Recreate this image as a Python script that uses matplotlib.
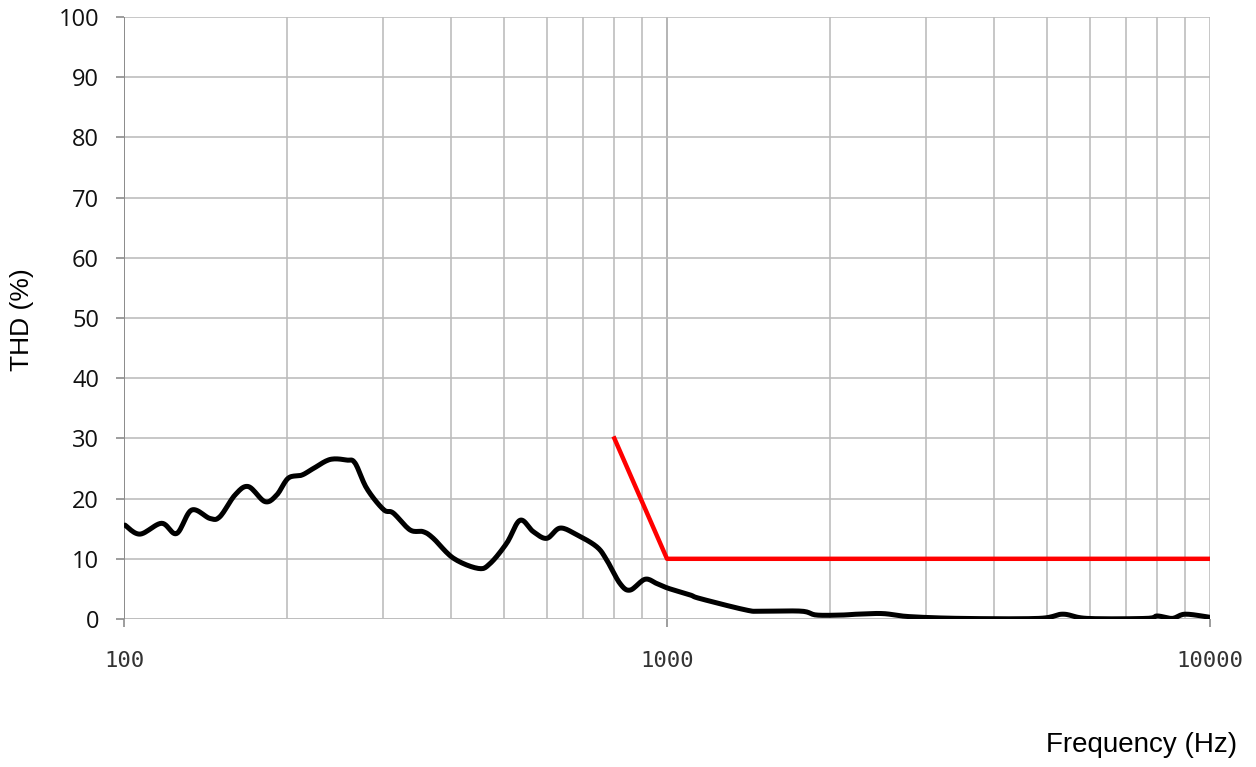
import numpy as np
import matplotlib
matplotlib.use("Agg")
import matplotlib.pyplot as plt
from matplotlib.ticker import FixedLocator, NullFormatter

freq = [100.4, 107.0, 117.3, 125.0, 133.2, 144.0, 150.2, 160.1, 169.4, 181.8,
        191.1, 200.7, 212.5, 223.2, 239.6, 257.2, 266.4, 279.9, 300.4, 313.3,
        336.3, 355.8, 371.2, 404.2, 449.2, 472.1, 506.8, 536.2, 567.3, 600.4,
        635.3, 681.9, 742.3, 774.4, 819.2, 855.1, 910.9, 957.2, 1005.5, 1103,
        1150, 1397, 1488, 1769, 1884, 2102, 2239, 2499, 2790, 3478,
        4837, 5359, 5935, 7632, 8000, 8522, 9002, 9970]
thd = [15.6, 14.1, 15.9, 14.2, 18.1, 16.7, 17.0, 20.6, 22.0, 19.5,
       20.6, 23.4, 23.9, 25.0, 26.5, 26.4, 25.9, 21.7, 18.2, 17.6,
       14.8, 14.5, 13.4, 10.1, 8.4, 9.2, 12.6, 16.4, 14.5, 13.4,
       15.1, 14.0, 12.0, 9.8, 5.9, 4.8, 6.6, 5.9, 5.1, 4.0,
       3.4, 1.5, 1.3, 1.3, 0.66, 0.66, 0.8, 0.9, 0.4, 0.1,
       0.1, 0.8, 0.1, 0.1, 0.5, 0.1, 0.8, 0.3]

# limit line
lim_freq = [800, 1000, 10000]
lim_thd = [30, 10, 10]

x_ticks = [100, 1000, 10000]
y_ticks = list(range(0, 101, 10))


def catmull_rom(xs, ys, n=12):
    # smooth line through the points, like the spreadsheet's smoothed line
    p = np.column_stack([xs, ys])
    p = np.vstack([p[0], p, p[-1]])
    out = []
    t = np.linspace(0, 1, n, endpoint=False)[:, None]
    for i in range(1, len(p) - 2):
        p0, p1, p2, p3 = p[i - 1], p[i], p[i + 1], p[i + 2]
        seg = 0.5 * ((2 * p1) + (-p0 + p2) * t
                     + (2 * p0 - 5 * p1 + 4 * p2 - p3) * t ** 2
                     + (-p0 + 3 * p1 - 3 * p2 + p3) * t ** 3)
        out.append(seg)
    out.append(p[-2][None, :])
    out = np.vstack(out)
    return out[:, 0], out[:, 1]


fig = plt.figure(figsize=(12.56, 7.67), dpi=100)
ax = fig.add_axes([124 / 1256, 148 / 767, 1086 / 1256, 602 / 767])

sx, sy = catmull_rom(np.log10(freq), np.array(thd))
ax.plot(10 ** sx, sy, color="black", lw=3.6, solid_joinstyle="round",
        solid_capstyle="round", zorder=3)
ax.plot(lim_freq, lim_thd, color="#ff0000", lw=3.2, zorder=4)

ax.set_xscale("log")
ax.set_xlim(100, 10000)
ax.set_ylim(0, 100)

minor = [m * d for d in (100, 1000) for m in range(2, 10)]
ax.xaxis.set_major_locator(FixedLocator(x_ticks))
ax.xaxis.set_minor_locator(FixedLocator(minor))
ax.xaxis.set_minor_formatter(NullFormatter())
ax.set_xticklabels([str(v) for v in x_ticks])
ax.set_yticks(y_ticks)

grid_c = "#bdbdbd"
ax.grid(True, which="major", axis="y", color=grid_c, lw=1.2)
ax.grid(True, which="both", axis="x", color=grid_c, lw=1.2)
ax.axvline(1000, color="#8c8c8c", lw=1.3, zorder=1)

for s in ax.spines.values():
    s.set_visible(False)
ax.axvline(100, color="#8c8c8c", lw=1.4, zorder=2)
ax.axhline(0, color=grid_c, lw=1.2, zorder=1)

ax.tick_params(axis="y", which="major", length=6, width=1.2, color="#8c8c8c",
               labelsize=17, pad=12)
ax.tick_params(axis="x", which="major", length=6, width=1.2, color="#8c8c8c",
               labelsize=16, pad=17)
ax.tick_params(axis="x", which="minor", length=0)
for lab in ax.get_yticklabels():
    lab.set_fontfamily("Open Sans")
    lab.set_color("#111111")
for lab in ax.get_xticklabels():
    lab.set_fontfamily("DejaVu Sans Mono")
    lab.set_color("#333333")

fig.text(22 / 1256, 1 - 320 / 767, "THD (%)", rotation=90, ha="center",
         va="center", fontsize=19, family="Liberation Sans")
fig.text(1237 / 1256, 1 - 745 / 767, "Frequency (Hz)", ha="right",
         va="center", fontsize=20, family="Liberation Sans")

fig.savefig("out.png", dpi=100)
